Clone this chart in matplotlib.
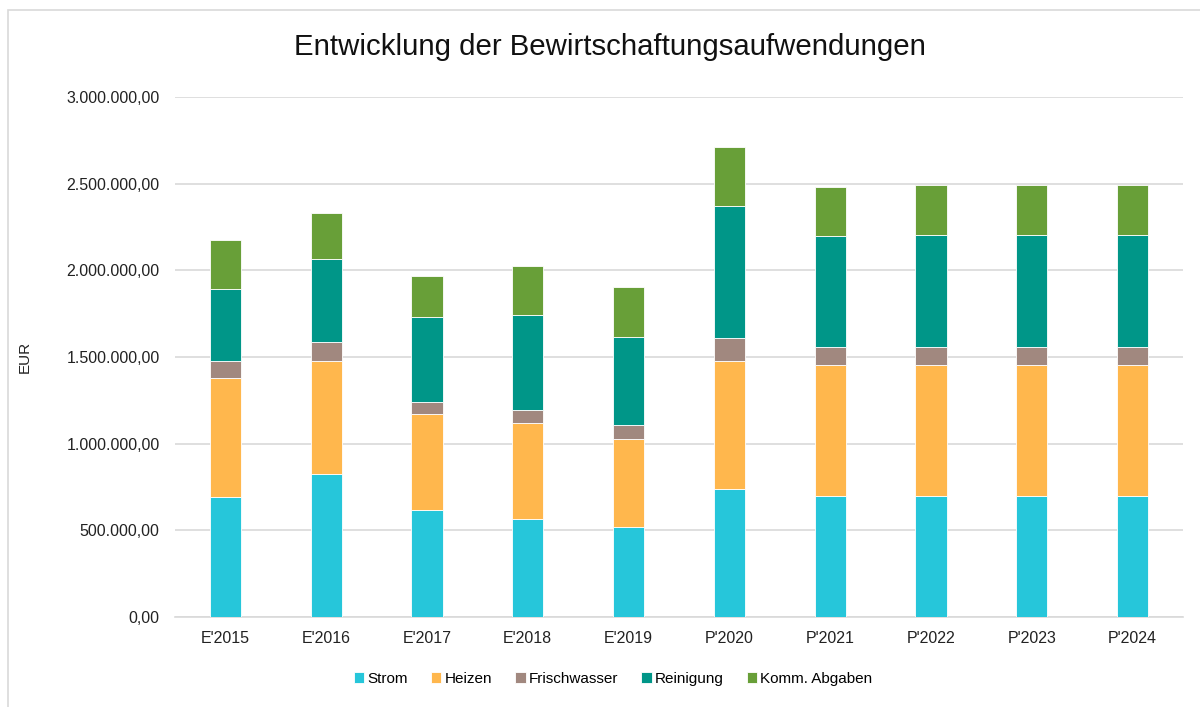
import numpy as np
import matplotlib
matplotlib.use('Agg')
import matplotlib.pyplot as plt
from matplotlib.patches import Rectangle
from matplotlib.ticker import FuncFormatter

plt.rcParams['font.family'] = ['Liberation Sans', 'DejaVu Sans']

# ── Daten ────────────────────────────────────────────────
jahre = ["E'2015", "E'2016", "E'2017", "E'2018", "E'2019",
         "P'2020", "P'2021", "P'2022", "P'2023", "P'2024"]

strom        = [692000, 823000, 620000, 568000, 518000, 737000, 700000, 700000, 700000, 700000]
heizen       = [685000, 656000, 554000, 551000, 507000, 740000, 753000, 753000, 753000, 753000]
frischwasser = [98000, 106000, 69000, 73000, 81000, 135000, 104000, 104000, 104000, 104000]
reinigung    = [420000, 483000, 490000, 552000, 509000, 759000, 643000, 648000, 648000, 648000]
komm_abgaben = [278000, 261000, 237000, 280000, 291000, 339000, 281000, 286000, 286000, 286000]

serien  = [strom, heizen, frischwasser, reinigung, komm_abgaben]
namen   = ['Strom', 'Heizen', 'Frischwasser', 'Reinigung', 'Komm. Abgaben']
farben  = ['#26C6DA', '#FFB74D', '#A1887F', '#009688', '#689F38']


def de_fmt(v, pos):
    s = f'{v:,.2f}'
    return s.replace(',', 'X').replace('.', ',').replace('X', '.')


fig = plt.figure(figsize=(12, 7.07), dpi=100)
ax = fig.add_axes([0.1458, 0.1273, 0.84, 0.7355])

# Rahmen (nur oben/links sichtbar)
fig.patches.append(Rectangle((8 / 1200, -0.1), 1.2, 1 - 10 / 707 + 0.1,
                             transform=fig.transFigure, fill=False,
                             edgecolor='#d9d9d9', linewidth=1.2))

x = np.arange(len(jahre))
bottom = np.zeros(len(jahre))
for werte, name, farbe in zip(serien, namen, farben):
    ax.bar(x, werte, 0.31, bottom=bottom, color=farbe, label=name,
           edgecolor='white', linewidth=0.6, zorder=3)
    bottom += np.array(werte)

ax.set_xlim(-0.5, len(jahre) - 0.5)
ax.set_ylim(0, 3000000)
ax.set_yticks(np.arange(0, 3000001, 500000))
ax.yaxis.set_major_formatter(FuncFormatter(de_fmt))
ax.set_xticks(x)
ax.set_xticklabels(jahre)
ax.tick_params(axis='both', length=0, labelsize=11.5, colors='#222222')
ax.tick_params(axis='x', pad=10)
ax.tick_params(axis='y', pad=11)
ax.grid(axis='y', color='#d9d9d9', linewidth=1.2, zorder=0)
for s in ['top', 'right', 'left']:
    ax.spines[s].set_visible(False)
ax.spines['bottom'].set_color('#d9d9d9')
ax.spines['bottom'].set_linewidth(1.2)

fig.text(25 / 1200, 1 - 357 / 707, 'EUR', rotation=90, ha='center', va='center',
         fontsize=11, color='#222222')
fig.text(610 / 1200, 1 - 47 / 707, 'Entwicklung der Bewirtschaftungsaufwendungen',
         ha='center', va='center', fontsize=21.2, color='#111111')

fig.legend(loc='center', bbox_to_anchor=(613 / 1200, 1 - 679 / 707), ncol=5,
           frameon=False, fontsize=11, handlelength=0.7, handleheight=0.7,
           handletextpad=0.2, columnspacing=1.5)

fig.savefig('out.png', dpi=100)
